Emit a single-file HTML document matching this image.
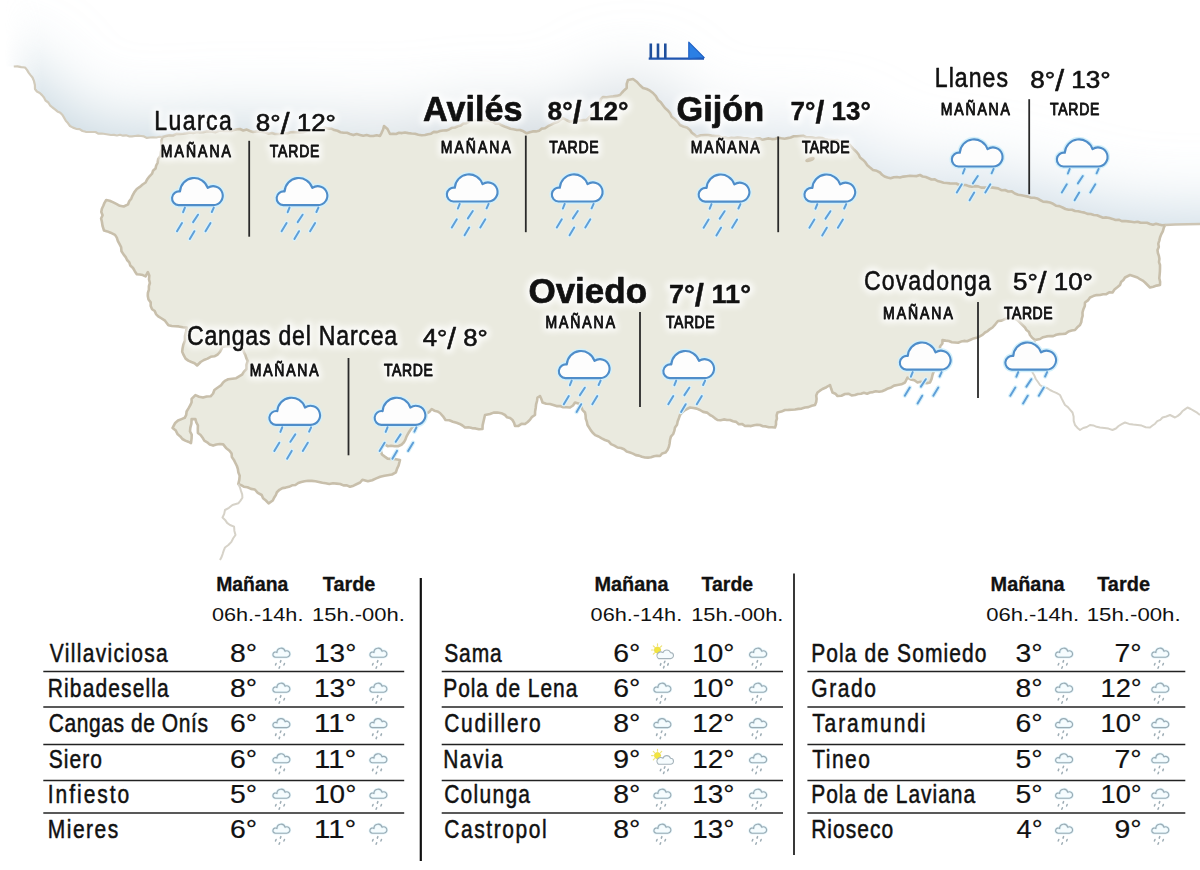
<!DOCTYPE html>
<html><head><meta charset="utf-8"><title>El tiempo en Asturias</title>
<style>
html,body{margin:0;padding:0;background:#fff;}
body{width:1200px;height:870px;overflow:hidden;}
svg{display:block;}
text{font-family:'Liberation Sans', Arial, sans-serif;}
.nm{}
.tp{transform-box:fill-box;}
.lbl text{paint-order:stroke;stroke:rgba(255,255,255,0.55);stroke-width:3px;stroke-linejoin:round;}
</style></head>
<body>
<svg width="1200" height="870" viewBox="0 0 1200 870">
<defs>
<clipPath id="seaclip"><polygon points="0.0,0.0 1200.0,0.0 1200.0,224.0 1175.0,224.5 1165.0,225.0 1150.0,224.0 1125.0,221.0 1100.0,216.5 1075.0,211.0 1062.5,207.5 1050.0,202.5 1040.0,200.0 1025.0,196.0 1005.0,190.0 987.5,187.5 962.5,185.0 937.5,181.0 920.0,175.0 900.0,177.5 887.5,177.5 880.0,172.5 870.0,167.5 860.0,157.5 850.0,145.0 837.5,140.0 812.5,137.5 800.0,136.0 775.0,139.0 750.0,139.0 725.0,137.5 705.0,135.0 696.7,136.7 690.0,130.0 680.0,125.0 671.7,116.7 665.0,108.0 658.0,100.0 653.0,93.0 643.0,88.0 636.7,81.7 633.0,79.0 628.0,80.0 626.7,88.0 620.0,95.0 603.0,97.0 595.0,110.0 586.7,120.0 570.0,121.7 563.0,118.0 558.0,121.7 545.0,128.3 526.7,133.3 520.0,130.0 507.5,127.5 490.0,121.0 475.0,120.0 455.0,127.5 440.0,131.0 425.0,135.0 405.0,132.5 390.0,134.0 387.5,129.0 384.0,126.0 380.0,136.0 370.0,136.0 350.0,134.0 325.0,127.5 300.0,132.5 275.0,134.0 250.0,131.0 240.0,129.0 225.0,131.0 200.0,132.5 180.0,134.0 162.5,137.0 150.0,137.5 135.0,136.0 105.0,134.0 82.5,131.0 70.0,126.0 62.5,115.0 52.5,107.5 44.0,97.5 35.0,89.0 32.5,77.5 25.0,67.5 13.8,66.5 0.0,66.5"/></clipPath>
<filter id="blur18" filterUnits="userSpaceOnUse" x="-100" y="-100" width="1400" height="900"><feGaussianBlur stdDeviation="36"/></filter>
<filter id="glow" x="-30%" y="-30%" width="160%" height="160%"><feGaussianBlur stdDeviation="1.2"/></filter>
<symbol id="cloud" viewBox="-3 -3 60 70" width="60" height="70" overflow="visible"><g fill="none" stroke-linecap="round" stroke-linejoin="round"><path d="M7.45,28.15 A6.9,6.9 0 1 1 8.82,14.44 A14.2,14.2 0 0 1 36.52,10.92 A9.5,9.5 0 1 1 42.05,28.15 Z" fill="#ffffff" stroke="#d2f0fb" stroke-width="5"/><path d="M13.7,30.6 L11.9,35.2 M42.6,30.6 L40.6,35.0 M26.8,37.7 L21.9,45.1 M10.8,46 L5.8,54.2 M39.3,46 L34.3,54.2 M23.2,54.2 L18.6,62" stroke="#daf2fb" stroke-width="4.4"/><path d="M7.45,28.15 A6.9,6.9 0 1 1 8.82,14.44 A14.2,14.2 0 0 1 36.52,10.92 A9.5,9.5 0 1 1 42.05,28.15 Z" fill="#fdfdfd" stroke="#4f8dc9" stroke-width="2.1"/><path d="M13.7,30.6 L11.9,35.2 M42.6,30.6 L40.6,35.0 M26.8,37.7 L21.9,45.1 M10.8,46 L5.8,54.2 M39.3,46 L34.3,54.2 M23.2,54.2 L18.6,62" stroke="#5f9fd8" stroke-width="2.0"/></g></symbol>
<symbol id="sicon" viewBox="0 0 18 20" width="18" height="20" overflow="visible"><g fill="none" stroke-linecap="round" stroke-linejoin="round"><path d="M3.00,9.20 A2.6,2.6 0 1 1 4.50,4.48 A4.1,4.1 0 0 1 12.56,3.25 A3.2,3.2 0 1 1 14.20,9.20 Z" fill="#f6fcfe" stroke="#e2f4fa" stroke-width="2.6"/><path d="M3.00,9.20 A2.6,2.6 0 1 1 4.50,4.48 A4.1,4.1 0 0 1 12.56,3.25 A3.2,3.2 0 1 1 14.20,9.20 Z" fill="none" stroke="#9aabb4" stroke-width="1.15"/><path d="M8.4,12.6 l-0.6,1.5 M3.6,15.5 l-0.6,1.5 M12,15.5 l-0.6,1.5 M7.2,18.7 l-0.6,1.5" stroke="#9eadb5" stroke-width="1.5"/></g></symbol>
<symbol id="ssun" viewBox="0 0 20 20" width="20" height="20" overflow="visible"><g fill="none" stroke-linecap="round" stroke-linejoin="round"><g stroke="#efe37a" stroke-width="1.2"><path d="M5,-1.2 v1.8 M5,9.2 v1.6 M-1,5 h1.8 M0.8,0.8 l1.2,1.2 M0.8,9.2 l1.2,-1.2 M9.2,0.8 l-1.2,1.2"/></g><circle cx="5" cy="5" r="3.1" fill="#f3e53c" stroke="#e9d94a" stroke-width="0.8"/><path d="M6,13.6 h12 a3,3 0 0 0 0,-6 a4,4 0 0 0 -7.5,0 a3,3 0 0 0 -4.5,6 z" fill="#f6fcfe" stroke="#a5b3ba" stroke-width="1.1"/><path d="M12.4,16.2 l-0.6,1.5 M8.4,18.6 l-0.6,1.5 M15.8,18.6 l-0.6,1.5 M11.6,21.4 l-0.6,1.5" stroke="#9eadb5" stroke-width="1.5"/></g></symbol>
<linearGradient id="shgrad" gradientUnits="userSpaceOnUse" x1="0" y1="0" x2="1200" y2="0"><stop offset="0.004" stop-color="#fff" stop-opacity="0"/><stop offset="0.035" stop-color="#fff" stop-opacity="1"/><stop offset="1" stop-color="#fff" stop-opacity="1"/></linearGradient>
<linearGradient id="shfill" gradientUnits="userSpaceOnUse" x1="0" y1="0" x2="1200" y2="0"><stop offset="0" stop-color="#bfd1dc"/><stop offset="0.2" stop-color="#c3d3dc"/><stop offset="0.3" stop-color="#d3dde2"/><stop offset="0.4" stop-color="#c6d0d7"/><stop offset="0.5" stop-color="#c8d2d9"/><stop offset="0.6" stop-color="#d4dee5"/><stop offset="0.73" stop-color="#d8e2ea"/><stop offset="0.85" stop-color="#c6d6e1"/><stop offset="1" stop-color="#c2d4e0"/></linearGradient>
<filter id="halo" x="-10%" y="-30%" width="120%" height="160%"><feGaussianBlur stdDeviation="3"/></filter>
</defs>
<rect width="1200" height="870" fill="#ffffff"/>
<mask id="seamask" maskUnits="userSpaceOnUse" x="0" y="0" width="1200" height="300"><rect x="0" y="0" width="1200" height="300" fill="url(#shgrad)"/></mask>
<g clip-path="url(#seaclip)"><g mask="url(#seamask)">
<polygon points="-80.0,62.5 13.8,62.5 25.0,63.5 32.5,73.5 35.0,85.0 44.0,93.5 52.5,103.5 62.5,111.0 70.0,122.0 82.5,127.0 105.0,130.0 135.0,132.0 150.0,133.5 162.5,133.0 180.0,130.0 200.0,128.5 225.0,127.0 240.0,125.0 250.0,127.0 275.0,130.0 300.0,128.5 325.0,123.5 350.0,130.0 370.0,132.0 380.0,132.0 384.0,122.0 387.5,125.0 390.0,130.0 405.0,128.5 425.0,131.0 440.0,127.0 455.0,123.5 475.0,116.0 490.0,117.0 507.5,123.5 520.0,126.0 526.7,129.3 545.0,124.3 558.0,117.7 563.0,114.0 570.0,117.7 586.7,116.0 595.0,106.0 603.0,93.0 620.0,91.0 626.7,84.0 628.0,76.0 633.0,75.0 636.7,77.7 643.0,84.0 653.0,89.0 658.0,96.0 665.0,104.0 671.7,112.7 680.0,121.0 690.0,126.0 696.7,132.7 705.0,131.0 725.0,133.5 750.0,135.0 775.0,135.0 800.0,132.0 812.5,133.5 837.5,136.0 850.0,141.0 860.0,153.5 870.0,163.5 880.0,168.5 887.5,173.5 900.0,173.5 920.0,171.0 937.5,177.0 962.5,181.0 987.5,183.5 1005.0,186.0 1025.0,192.0 1040.0,196.0 1050.0,198.5 1062.5,203.5 1075.0,207.0 1100.0,212.5 1125.0,217.0 1150.0,220.0 1165.0,221.0 1175.0,220.5 1200.0,220.0 1300.0,220.0 1300.0,696.0 -80.0,696.0" fill="url(#shfill)" filter="url(#blur18)"/>
</g></g>
<polygon points="162.5,137.0 165.9,136.1 169.4,135.2 173.0,135.5 176.4,133.9 180.0,134.0 183.3,133.8 186.6,133.3 189.9,132.5 193.3,133.0 196.6,132.0 200.0,132.5 203.1,132.2 206.2,131.4 209.3,131.2 212.5,131.6 215.7,132.1 218.7,130.7 221.8,130.7 225.0,131.0 228.0,130.8 231.1,131.0 234.0,129.9 237.0,129.2 240.0,129.0 243.2,130.5 246.8,129.6 250.0,131.0 253.1,132.0 256.3,131.4 259.4,131.5 262.6,131.9 265.7,132.6 268.7,133.8 271.9,133.1 275.0,134.0 278.1,134.0 281.3,133.9 284.4,133.2 287.5,133.3 290.6,132.3 293.7,132.1 296.8,132.2 300.0,132.5 303.2,132.2 306.2,131.1 309.3,130.3 312.5,130.1 315.6,129.3 318.7,128.4 322.0,128.6 325.0,127.5 328.0,128.6 331.4,128.7 334.3,130.1 337.5,130.8 340.5,132.2 343.7,132.8 347.0,132.8 350.0,134.0 353.3,135.1 356.7,134.0 360.0,134.9 363.3,135.8 366.7,135.1 370.0,136.0 373.3,136.0 376.7,135.2 380.0,136.0 381.6,132.8 383.1,129.5 384.0,126.0 387.5,129.0 390.0,134.0 393.0,133.8 396.1,134.0 399.0,132.8 402.0,133.1 405.0,132.5 408.3,133.1 411.6,133.5 415.0,133.7 418.3,134.7 421.6,135.3 425.0,135.0 428.0,134.2 431.1,133.7 433.8,131.9 437.1,132.1 440.0,131.0 443.1,130.5 446.2,130.4 449.1,129.4 451.9,127.8 455.0,127.5 457.8,126.2 460.8,125.6 463.3,123.5 466.4,123.2 469.1,121.6 471.9,120.5 475.0,120.0 478.0,119.5 481.0,120.9 484.0,120.0 487.0,120.4 490.0,121.0 493.0,121.9 495.6,123.8 499.0,123.6 501.7,125.3 504.6,126.5 507.5,127.5 510.5,128.8 513.6,129.3 516.8,130.0 520.0,130.0 523.5,131.3 526.7,133.3 529.7,132.3 532.7,131.4 536.0,131.4 539.1,130.7 541.8,128.6 545.0,128.3 548.0,126.2 551.3,124.6 554.5,122.9 558.0,121.7 560.5,119.8 563.0,118.0 566.4,120.0 570.0,121.7 573.3,121.0 576.6,120.2 580.0,120.5 583.3,120.1 586.7,120.0 588.9,117.6 591.4,115.5 593.2,112.7 595.0,110.0 596.6,107.4 598.4,104.9 600.1,102.4 600.8,99.2 603.0,97.0 606.5,97.3 609.9,96.7 613.3,96.4 616.7,95.9 620.0,95.0 622.1,92.5 624.3,90.2 626.7,88.0 626.7,83.9 628.0,80.0 633.0,79.0 636.7,81.7 639.7,85.0 643.0,88.0 646.7,89.0 650.0,90.7 653.0,93.0 655.9,96.2 658.0,100.0 660.8,102.3 662.9,105.2 665.0,108.0 667.8,110.4 670.1,113.3 671.7,116.7 674.9,119.0 677.7,121.8 680.0,125.0 683.4,126.5 687.0,127.6 690.0,130.0 691.8,132.7 694.3,134.6 696.7,136.7 700.7,135.3 705.0,135.0 708.4,135.0 711.7,135.6 715.0,136.0 718.4,136.0 721.6,137.7 725.0,137.5 728.1,138.5 731.3,137.8 734.4,138.0 737.5,137.5 740.7,137.8 743.8,138.4 746.9,138.4 750.0,139.0 753.1,139.6 756.2,138.4 759.4,138.2 762.5,139.8 765.6,139.0 768.8,138.4 771.9,139.1 775.0,139.0 778.0,137.8 781.3,138.3 784.5,138.7 787.6,138.1 790.7,137.5 793.7,136.3 796.8,136.2 800.0,136.0 803.2,135.8 806.2,137.2 809.4,137.2 812.5,137.5 815.6,138.3 818.8,137.8 821.9,138.0 824.9,139.3 828.0,139.9 831.2,140.0 834.3,140.2 837.5,140.0 840.4,141.8 843.6,142.9 847.0,143.3 850.0,145.0 852.0,147.5 854.2,149.8 856.6,152.0 858.6,154.5 860.0,157.5 862.8,159.7 865.3,162.2 867.3,165.2 870.0,167.5 873.0,169.9 876.7,170.8 880.0,172.5 882.1,174.8 884.5,176.5 887.5,177.5 890.6,178.3 893.8,177.3 896.9,177.0 900.0,177.5 903.3,176.6 906.6,176.2 909.9,175.8 913.4,176.0 916.8,176.1 920.0,175.0 922.7,176.5 925.8,177.0 928.7,178.2 931.5,179.5 934.8,179.3 937.5,181.0 940.6,181.8 943.6,182.7 946.8,183.0 949.9,183.4 953.1,183.5 956.3,183.5 959.3,185.0 962.5,185.0 965.7,185.0 968.7,186.1 971.8,186.7 975.0,186.1 978.1,186.4 981.2,187.6 984.3,187.6 987.5,187.5 991.1,187.4 994.6,187.9 998.1,188.4 1001.4,190.2 1005.0,190.0 1008.2,191.5 1011.8,191.4 1014.8,193.5 1018.1,194.8 1021.6,195.3 1025.0,196.0 1028.1,196.6 1031.0,197.7 1034.2,197.8 1037.2,198.4 1040.0,200.0 1043.1,201.6 1046.6,201.9 1050.0,202.5 1053.1,203.8 1056.0,205.7 1059.4,206.1 1062.5,207.5 1065.5,209.0 1068.6,209.8 1072.0,209.7 1075.0,211.0 1078.2,211.3 1081.3,212.0 1084.5,212.6 1087.5,213.9 1090.7,214.0 1093.8,215.0 1097.0,215.2 1100.0,216.5 1103.0,217.7 1106.3,217.4 1109.4,218.1 1112.5,218.9 1115.5,220.0 1118.8,219.7 1121.7,221.1 1125.0,221.0 1128.1,221.4 1131.2,221.8 1134.4,222.2 1137.6,221.7 1140.6,222.8 1143.8,222.7 1147.0,222.8 1150.0,224.0 1153.0,224.7 1156.0,223.8 1159.0,224.6 1162.0,225.2 1165.0,225.0 1163.7,228.1 1162.8,231.4 1161.2,234.4 1160.0,237.5 1159.3,240.6 1158.3,243.7 1158.8,247.0 1157.5,250.0 1157.9,253.0 1158.9,255.9 1159.4,258.9 1159.0,262.1 1160.0,265.0 1160.0,268.3 1159.9,271.7 1159.6,275.0 1159.3,278.3 1160.1,281.7 1160.0,285.0 1156.6,285.6 1153.3,286.7 1150.0,287.5 1147.5,285.0 1145.0,282.5 1142.7,280.6 1140.0,279.2 1137.5,277.5 1133.8,276.2 1130.0,275.0 1125.0,277.5 1123.4,280.0 1121.0,282.1 1120.0,285.0 1117.3,287.3 1114.5,289.5 1112.5,292.5 1109.2,292.4 1106.3,294.2 1103.1,294.3 1100.0,295.0 1096.5,295.1 1093.2,296.1 1090.0,297.5 1087.9,300.4 1085.0,302.5 1084.8,306.0 1083.4,309.2 1082.5,312.5 1082.6,315.8 1081.7,318.8 1081.3,322.0 1080.0,325.0 1077.3,327.3 1075.0,330.0 1071.7,330.5 1068.5,331.4 1065.8,333.6 1062.5,334.0 1059.3,334.1 1056.2,334.7 1053.2,336.1 1050.0,336.0 1046.5,336.4 1043.1,337.2 1040.0,339.0 1035.0,340.0 1032.2,337.8 1030.0,335.0 1029.0,332.1 1026.5,330.1 1025.0,327.5 1022.5,325.0 1020.0,322.5 1016.7,319.5 1012.5,318.0 1008.7,317.9 1005.0,319.0 1001.7,320.6 998.0,321.0 995.3,324.3 992.5,327.5 990.0,329.1 987.7,331.1 985.0,332.5 982.8,334.6 980.2,336.1 977.5,337.5 973.6,338.4 970.0,340.0 967.1,341.3 964.0,340.9 961.0,341.6 958.1,342.8 955.0,342.5 951.8,342.2 948.8,341.0 945.6,340.6 942.5,340.0 942.4,343.5 940.0,346.5 940.0,350.0 939.0,352.9 938.2,355.9 939.2,359.1 938.4,362.1 937.5,365.0 936.5,368.7 933.7,371.5 932.5,375.0 931.6,378.9 930.0,382.5 926.9,383.1 923.8,382.6 920.6,381.8 917.5,382.5 914.4,380.3 910.6,379.5 907.5,377.5 905.0,382.5 901.4,384.3 897.5,385.0 894.1,385.6 891.2,387.4 888.0,388.4 885.0,390.0 882.1,391.2 879.1,391.7 875.9,391.2 873.0,392.1 870.0,392.5 867.1,393.7 863.9,392.8 861.0,393.8 857.9,394.0 855.0,395.0 851.6,395.4 848.4,393.7 845.0,394.0 841.4,395.7 837.5,396.0 835.4,393.7 832.5,392.5 831.2,388.8 830.0,385.0 826.4,387.2 822.5,389.0 819.9,390.7 817.5,392.5 816.2,395.5 816.6,398.8 816.2,402.0 815.0,405.0 811.7,405.8 808.4,407.1 805.0,407.5 801.7,408.6 798.4,408.9 795.1,409.5 791.7,409.7 788.4,409.9 785.0,410.0 781.4,411.6 777.5,412.5 776.6,415.4 776.9,418.6 776.0,421.5 776.0,424.6 775.0,427.5 772.0,427.3 768.9,427.3 765.9,426.4 762.9,426.3 760.0,425.0 757.0,424.8 754.0,425.3 751.0,426.1 748.0,425.8 745.0,426.0 742.3,424.1 738.8,424.2 736.2,421.9 733.0,421.3 730.0,420.0 726.9,420.0 723.8,419.4 720.6,420.2 717.5,420.0 715.0,418.3 712.7,416.4 710.0,415.0 707.0,412.6 703.2,411.9 700.0,410.0 696.8,408.6 693.4,408.0 690.0,407.5 685.0,410.0 682.3,412.3 680.0,415.0 678.9,418.2 677.7,421.3 677.0,424.7 675.0,427.5 674.3,430.9 673.2,434.0 670.9,436.7 670.0,440.0 669.6,443.4 668.9,446.8 667.5,450.0 665.4,452.6 662.1,453.5 660.0,456.0 656.9,455.7 654.0,456.3 651.0,457.3 648.0,457.6 645.0,457.5 641.9,456.8 639.0,455.6 635.8,455.1 633.0,453.6 630.0,452.5 626.7,451.6 624.0,449.3 620.9,448.0 617.5,447.5 614.4,445.6 611.0,444.1 608.5,441.2 605.0,440.0 601.7,438.4 598.6,436.5 595.2,435.1 592.5,432.5 590.7,430.1 589.1,427.5 587.5,425.0 586.9,421.9 585.8,418.8 585.6,415.6 585.0,412.5 582.6,410.1 581.3,407.0 580.0,404.0 575.0,402.5 573.0,405.5 570.0,407.5 566.6,407.2 563.2,407.3 560.0,406.0 556.5,406.1 553.3,405.0 550.0,404.0 546.2,403.7 542.5,402.5 541.4,399.2 540.0,396.0 537.5,397.5 537.0,401.0 536.1,404.4 535.7,408.0 535.1,411.4 535.0,415.0 532.1,416.8 530.1,419.6 527.7,422.0 525.0,424.0 521.5,423.9 518.5,425.9 515.0,426.0 514.1,422.9 512.5,420.0 510.1,418.1 507.1,417.3 505.0,415.0 501.4,413.2 497.5,412.5 493.6,412.6 490.0,414.0 485.0,415.0 484.2,418.5 483.4,421.9 482.6,425.4 482.5,429.0 478.9,429.3 475.5,428.4 472.0,428.1 468.5,427.2 465.0,427.5 462.5,425.5 459.7,423.9 456.6,422.8 452.9,421.7 449.4,420.3 445.5,420.0 443.0,416.3 440.0,413.0 437.4,411.4 434.3,410.7 431.7,409.0 429.3,411.9 426.2,414.0 423.1,415.9 420.0,418.0 418.5,421.0 415.4,422.8 413.7,425.7 411.6,428.3 409.7,431.0 408.1,433.7 406.6,436.4 405.5,439.3 404.1,442.0 401.4,444.8 398.1,446.3 394.5,446.2 391.1,445.7 387.6,446.2 383.4,443.4 380.7,447.6 380.9,451.1 382.0,454.5 384.8,456.6 387.6,458.6 391.7,459.0 395.9,459.3 400.0,460.0 398.6,465.5 397.0,468.9 395.9,472.4 392.0,474.5 387.6,475.2 384.5,475.7 380.2,476.7 376.2,478.4 372.2,480.2 367.9,481.2 362.4,479.8 360.1,482.5 356.9,484.0 353.6,485.7 350.0,486.7 346.9,485.4 343.4,485.4 340.3,484.0 336.6,483.6 333.0,483.2 329.3,484.0 325.8,483.3 322.4,482.8 318.9,481.9 315.5,481.2 311.8,480.9 308.2,480.7 304.5,481.2 301.3,482.0 298.2,483.0 295.4,485.0 292.1,485.3 289.0,486.8 285.7,487.6 282.4,488.1 279.4,489.8 276.9,492.2 275.8,495.1 274.1,497.7 272.8,500.5 268.6,503.3 265.9,500.5 263.1,498.3 261.7,495.0 257.8,492.8 254.8,489.5 251.0,488.9 247.5,487.3 243.8,486.7 241.2,485.1 238.3,484.0 239.3,479.9 239.7,475.7 238.4,472.6 237.9,469.2 236.9,466.0 235.4,463.0 233.9,459.9 231.9,457.1 231.6,453.5 229.5,450.7 226.0,447.9 223.2,444.4 219.7,444.0 216.4,444.5 213.1,445.6 209.8,444.6 207.2,442.3 204.3,440.6 202.6,437.7 200.6,435.0 197.9,433.0 197.8,429.2 197.9,425.4 196.3,422.4 195.4,419.1 191.6,419.1 191.4,423.6 190.3,427.9 190.0,431.4 191.7,434.6 191.6,438.1 191.0,443.1 188.2,441.7 185.3,440.6 182.4,439.0 180.3,436.4 177.7,434.3 175.8,430.6 172.6,427.9 175.2,422.9 178.0,420.5 181.5,419.1 184.7,417.8 186.2,414.8 186.6,411.5 188.5,408.4 190.3,405.2 191.6,402.2 191.6,398.9 195.4,395.1 199.1,396.7 203.0,397.6 206.7,396.5 210.6,396.3 213.1,393.5 214.4,390.0 217.8,387.5 221.3,385.1 223.1,382.5 225.4,380.6 228.2,379.3 232.2,378.7 236.2,378.2 239.1,376.4 242.0,374.7 244.0,371.6 246.6,369.0 246.5,364.9 247.7,360.9 246.3,358.1 245.4,355.2 244.0,352.4 243.1,349.4 239.5,347.9 235.5,348.3 232.0,346.5 228.8,346.3 225.6,346.3 222.4,347.1 220.1,351.7 217.7,354.5 214.4,356.3 210.7,356.8 207.5,358.6 203.9,360.0 200.6,362.0 197.1,365.5 194.6,363.2 191.4,362.0 188.3,360.6 185.6,358.6 183.7,355.2 182.2,351.7 182.6,348.2 183.3,344.8 185.0,340.6 185.0,336.0 186.0,331.8 186.8,327.6 182.7,327.2 178.7,326.4 175.3,326.2 171.8,326.0 168.4,325.3 165.0,320.7 160.9,318.0 158.2,316.3 156.0,314.1 154.7,311.0 152.1,309.2 150.7,306.0 150.7,302.4 148.5,299.5 147.8,296.1 147.9,292.8 148.9,289.6 148.9,286.2 149.9,283.0 149.0,279.4 149.3,275.6 147.8,272.1 145.6,276.4 142.8,275.1 139.9,274.5 136.8,274.3 134.8,271.2 133.0,268.0 130.3,265.5 129.3,262.4 127.1,260.0 125.7,257.1 123.7,254.6 121.5,251.3 121.1,247.2 119.3,243.7 117.8,240.8 116.8,237.6 115.0,234.9 110.6,232.7 107.4,231.4 104.0,230.5 102.6,226.2 101.9,221.8 101.1,218.5 102.6,215.2 101.3,212.0 101.9,208.7 103.3,205.8 104.5,202.8 106.2,200.0 109.6,200.7 112.8,202.1 116.3,203.9 119.8,205.8 123.7,206.5 128.1,204.3 129.2,201.2 131.3,198.6 132.5,195.6 134.4,192.1 136.8,189.0 139.8,186.9 142.6,184.5 145.6,182.5 147.3,179.2 149.5,176.3 152.1,173.7 153.0,170.8 155.5,168.6 156.2,165.5 157.6,162.8 158.2,159.0 160.5,155.7 160.9,151.9 162.1,148.3 161.6,144.4 161.5,140.7" fill="#eaeadf" stroke="#c8bfab" stroke-width="2.6" stroke-linejoin="round"/>
<polyline points="13.8,66.5 17.5,66.4 21.2,67.2 25.0,67.5 27.0,69.9 28.6,72.6 30.5,75.1 32.5,77.5 34.0,81.2 34.9,85.0 35.0,89.0 36.9,91.5 39.8,93.0 42.0,95.1 44.0,97.5 45.5,100.5 48.3,102.5 50.0,105.3 52.5,107.5 55.0,109.3 57.4,111.4 60.3,112.7 62.5,115.0 64.2,117.9 65.8,120.8 68.1,123.3 70.0,126.0 73.0,127.6 76.1,128.8 79.6,129.1 82.5,131.0 85.7,131.8 88.9,132.0 92.2,132.0 95.5,132.0 98.5,133.7 101.8,133.5 105.0,134.0 108.0,134.5 111.0,135.0 114.0,134.9 117.0,135.5 120.0,134.8 123.0,135.7 126.0,135.3 129.0,136.3 132.0,136.4 135.0,136.0 138.1,135.7 141.1,136.0 144.0,136.4 146.9,137.9 150.0,137.5 153.1,137.3 156.3,137.5 159.4,136.8 162.5,137.0" fill="none" stroke="#d2cbbb" stroke-width="2.2" stroke-linejoin="round"/>
<polyline points="1165.0,225.0 1175.0,224.5 1200.0,224.0" fill="none" stroke="#cdc5b4" stroke-width="2.4"/>
<polyline points="238.3,484.0 239.9,487.3 241.0,490.9 242.2,494.3 242.4,497.8 240.5,500.6 238.3,503.3 232.5,505.0 229.0,507.8 225.0,510.0 224.2,513.9 222.5,517.5 225.1,519.9 227.1,522.9 230.0,525.0 234.1,526.7 234.4,530.9 235.5,535.0 233.2,538.3 231.4,541.9 228.4,545.0 225.0,547.5 223.7,550.6 222.7,553.8 221.6,557.0 220.0,560.0" fill="none" stroke="#d6d2c8" stroke-width="2" stroke-linejoin="round"/>
<polyline points="1035.0,340.0 1034.4,343.7 1033.7,347.5 1033.1,351.2 1033.0,355.0 1032.4,358.5 1032.5,362.0 1032.2,365.5 1033.2,369.0 1032.5,372.5 1034.4,375.6 1035.8,379.0 1038.0,382.0 1040.0,385.0 1043.1,387.1 1046.9,387.9 1050.0,390.0 1053.3,391.6 1056.8,393.1 1060.0,395.0 1061.6,398.4 1063.3,401.7 1065.0,405.0 1067.9,407.1 1070.2,409.8 1072.5,412.5 1073.6,416.6 1073.7,420.9 1075.0,425.0 1077.3,427.7 1080.0,430.0 1083.2,428.0 1086.8,427.0 1090.0,425.0 1093.4,425.4 1096.6,426.8 1100.0,427.5 1104.3,427.9 1108.5,428.6 1112.5,430.0 1115.9,428.5 1118.6,426.0 1121.7,424.1 1125.0,422.5 1129.1,423.9 1133.2,424.6 1137.5,425.0 1141.7,425.6 1145.7,427.2 1150.0,427.5 1152.5,425.5 1155.1,423.7 1157.3,421.2 1160.3,419.9 1162.5,417.5 1166.3,416.5 1170.0,415.0 1175.0,417.5 1177.8,415.9 1180.3,413.9 1182.3,411.3 1184.9,409.4 1187.5,407.5 1190.8,409.0 1194.0,410.9 1197.1,412.7 1200.0,415.0" fill="none" stroke="#d6d2c8" stroke-width="2" stroke-linejoin="round"/>
<ellipse cx="810" cy="159.5" rx="5" ry="2.2" fill="#c9bfa9" transform="rotate(-20 810 159.5)"/>
<g><path d="M648.7,58.7 H704" stroke="#1f55b0" stroke-width="2.2"/><path d="M650.8,43.5 V58.7 M658,43.5 V58.7 M665.3,43.5 V58.7" stroke="#1f4f9c" stroke-width="2.6"/><path d="M688.8,42.2 L688.8,58.7 L704.2,57.6 Z" fill="#2b7fe4" stroke="#1f60c4" stroke-width="1.2" stroke-linejoin="round"/></g>
<path d="M249.2,140.8 V236.7" stroke="#2a2a2a" stroke-width="1.8"/>
<path d="M525.8,135.6 V232.2" stroke="#2a2a2a" stroke-width="1.8"/>
<path d="M778.2,136.5 V232.2" stroke="#2a2a2a" stroke-width="1.8"/>
<path d="M1029.2,99.2 V194.2" stroke="#2a2a2a" stroke-width="1.8"/>
<path d="M640,312 V407" stroke="#2a2a2a" stroke-width="1.8"/>
<path d="M348.5,358 V455.3" stroke="#2a2a2a" stroke-width="1.8"/>
<path d="M978,302 V398" stroke="#2a2a2a" stroke-width="1.8"/>
<use href="#cloud" x="168.2" y="174.0"/>
<use href="#cloud" x="272.8" y="174.0"/>
<use href="#cloud" x="443.0" y="170.3"/>
<use href="#cloud" x="548.0" y="170.3"/>
<use href="#cloud" x="694.8" y="170.5"/>
<use href="#cloud" x="800.6" y="170.5"/>
<use href="#cloud" x="948.0" y="135.3"/>
<use href="#cloud" x="1053.0" y="135.3"/>
<use href="#cloud" x="555.0" y="347.0"/>
<use href="#cloud" x="659.5" y="347.0"/>
<use href="#cloud" x="265.5" y="393.7"/>
<use href="#cloud" x="370.8" y="393.7"/>
<use href="#cloud" x="896.0" y="338.5"/>
<use href="#cloud" x="1001.5" y="338.5"/>
<g font-family="'Liberation Sans', Arial, sans-serif" filter="url(#halo)" opacity="0.9"><text transform="translate(154.20 0) scale(0.84 1)" x="0" y="129.7" font-size="27.5" font-weight="normal" textLength="92.43" lengthAdjust="spacing" fill="#fff" stroke="#fff" stroke-width="7" stroke-linejoin="round">Luarca</text><text x="255.78" y="130.8" font-size="24" font-weight="normal" textLength="80.22" lengthAdjust="spacingAndGlyphs" fill="#fff" stroke="#fff" stroke-width="7" stroke-linejoin="round">8°<tspan font-size="29.3" dy="3.2">/</tspan><tspan dy="-3.2"> 12°</tspan></text><text transform="translate(160.80 0) scale(0.86 1)" x="0" y="157.5" font-size="16.3" font-weight="normal" textLength="81.58" lengthAdjust="spacing" fill="#fff" stroke="#fff" stroke-width="7" stroke-linejoin="round">MAÑANA</text><text transform="translate(269.80 0) scale(0.86 1)" x="0" y="157.5" font-size="16.3" font-weight="normal" textLength="57.70" lengthAdjust="spacing" fill="#fff" stroke="#fff" stroke-width="7" stroke-linejoin="round">TARDE</text><text x="423.01" y="120.9" font-size="35.6" font-weight="bold" textLength="99.47" lengthAdjust="spacingAndGlyphs" fill="#fff" stroke="#fff" stroke-width="7" stroke-linejoin="round">Avilés</text><text x="547.60" y="120.0" font-size="25" font-weight="bold" textLength="81.00" lengthAdjust="spacingAndGlyphs" fill="#fff" stroke="#fff" stroke-width="7" stroke-linejoin="round">8°<tspan font-size="30.5" dy="3.2">/</tspan><tspan dy="-3.2"> 12°</tspan></text><text transform="translate(440.80 0) scale(0.86 1)" x="0" y="152.7" font-size="16.3" font-weight="normal" textLength="81.37" lengthAdjust="spacing" fill="#fff" stroke="#fff" stroke-width="7" stroke-linejoin="round">MAÑANA</text><text transform="translate(549.20 0) scale(0.86 1)" x="0" y="152.7" font-size="16.3" font-weight="normal" textLength="57.56" lengthAdjust="spacing" fill="#fff" stroke="#fff" stroke-width="7" stroke-linejoin="round">TARDE</text><text x="676.60" y="120.9" font-size="35.6" font-weight="bold" textLength="87.54" lengthAdjust="spacingAndGlyphs" fill="#fff" stroke="#fff" stroke-width="7" stroke-linejoin="round">Gijón</text><text x="790.60" y="120.0" font-size="25" font-weight="bold" textLength="80.20" lengthAdjust="spacingAndGlyphs" fill="#fff" stroke="#fff" stroke-width="7" stroke-linejoin="round">7°<tspan font-size="30.5" dy="3.2">/</tspan><tspan dy="-3.2"> 13°</tspan></text><text transform="translate(690.80 0) scale(0.86 1)" x="0" y="153.4" font-size="16.3" font-weight="normal" textLength="80.09" lengthAdjust="spacing" fill="#fff" stroke="#fff" stroke-width="7" stroke-linejoin="round">MAÑANA</text><text transform="translate(802.00 0) scale(0.86 1)" x="0" y="153.4" font-size="16.3" font-weight="normal" textLength="55.29" lengthAdjust="spacing" fill="#fff" stroke="#fff" stroke-width="7" stroke-linejoin="round">TARDE</text><text transform="translate(934.80 0) scale(0.84 1)" x="0" y="87.5" font-size="27.5" font-weight="normal" textLength="87.12" lengthAdjust="spacing" fill="#fff" stroke="#fff" stroke-width="7" stroke-linejoin="round">Llanes</text><text x="1030.20" y="87.5" font-size="24" font-weight="normal" textLength="80.61" lengthAdjust="spacingAndGlyphs" fill="#fff" stroke="#fff" stroke-width="7" stroke-linejoin="round">8°<tspan font-size="29.3" dy="3.2">/</tspan><tspan dy="-3.2"> 13°</tspan></text><text transform="translate(940.80 0) scale(0.86 1)" x="0" y="115.0" font-size="16.3" font-weight="normal" textLength="80.30" lengthAdjust="spacing" fill="#fff" stroke="#fff" stroke-width="7" stroke-linejoin="round">MAÑANA</text><text transform="translate(1050.00 0) scale(0.86 1)" x="0" y="115.0" font-size="16.3" font-weight="normal" textLength="57.50" lengthAdjust="spacing" fill="#fff" stroke="#fff" stroke-width="7" stroke-linejoin="round">TARDE</text><text x="528.40" y="303.0" font-size="35.6" font-weight="bold" textLength="118.72" lengthAdjust="spacingAndGlyphs" fill="#fff" stroke="#fff" stroke-width="7" stroke-linejoin="round">Oviedo</text><text x="669.00" y="303.0" font-size="25" font-weight="bold" textLength="82.00" lengthAdjust="spacingAndGlyphs" fill="#fff" stroke="#fff" stroke-width="7" stroke-linejoin="round">7°<tspan font-size="30.5" dy="3.2">/</tspan><tspan dy="-3.2"> 11°</tspan></text><text transform="translate(545.40 0) scale(0.86 1)" x="0" y="328.4" font-size="16.3" font-weight="normal" textLength="80.93" lengthAdjust="spacing" fill="#fff" stroke="#fff" stroke-width="7" stroke-linejoin="round">MAÑANA</text><text transform="translate(666.00 0) scale(0.86 1)" x="0" y="328.4" font-size="16.3" font-weight="normal" textLength="56.40" lengthAdjust="spacing" fill="#fff" stroke="#fff" stroke-width="7" stroke-linejoin="round">TARDE</text><text transform="translate(187.00 0) scale(0.84 1)" x="0" y="345.5" font-size="27.5" font-weight="normal" textLength="250.16" lengthAdjust="spacing" fill="#fff" stroke="#fff" stroke-width="7" stroke-linejoin="round">Cangas del Narcea</text><text x="422.77" y="345.5" font-size="24" font-weight="normal" textLength="65.03" lengthAdjust="spacingAndGlyphs" fill="#fff" stroke="#fff" stroke-width="7" stroke-linejoin="round">4°<tspan font-size="29.3" dy="3.2">/</tspan><tspan dy="-3.2"> 8°</tspan></text><text transform="translate(249.80 0) scale(0.86 1)" x="0" y="376.1" font-size="16.3" font-weight="normal" textLength="79.88" lengthAdjust="spacing" fill="#fff" stroke="#fff" stroke-width="7" stroke-linejoin="round">MAÑANA</text><text transform="translate(384.00 0) scale(0.86 1)" x="0" y="376.1" font-size="16.3" font-weight="normal" textLength="56.74" lengthAdjust="spacing" fill="#fff" stroke="#fff" stroke-width="7" stroke-linejoin="round">TARDE</text><text transform="translate(864.00 0) scale(0.84 1)" x="0" y="290.0" font-size="27.5" font-weight="normal" textLength="151.04" lengthAdjust="spacing" fill="#fff" stroke="#fff" stroke-width="7" stroke-linejoin="round">Covadonga</text><text x="1013.00" y="290.0" font-size="24" font-weight="normal" textLength="80.00" lengthAdjust="spacingAndGlyphs" fill="#fff" stroke="#fff" stroke-width="7" stroke-linejoin="round">5°<tspan font-size="29.3" dy="3.2">/</tspan><tspan dy="-3.2"> 10°</tspan></text><text transform="translate(883.00 0) scale(0.86 1)" x="0" y="318.6" font-size="16.3" font-weight="normal" textLength="81.16" lengthAdjust="spacing" fill="#fff" stroke="#fff" stroke-width="7" stroke-linejoin="round">MAÑANA</text><text transform="translate(1004.00 0) scale(0.86 1)" x="0" y="318.6" font-size="16.3" font-weight="normal" textLength="56.40" lengthAdjust="spacing" fill="#fff" stroke="#fff" stroke-width="7" stroke-linejoin="round">TARDE</text></g>
<g font-family="'Liberation Sans', Arial, sans-serif">
<text id="t0" transform="translate(154.20 0) scale(0.84 1)" x="0" y="129.7" font-size="27.5" font-weight="normal" textLength="92.43" lengthAdjust="spacing" fill="#111" stroke="#111" stroke-width="0.6" stroke-linejoin="round">Luarca</text>
<text id="t1" x="255.78" y="130.8" font-size="24" font-weight="normal" textLength="80.22" lengthAdjust="spacingAndGlyphs" fill="#111" stroke="#111" stroke-width="0.6" stroke-linejoin="round">8°<tspan font-size="29.3" dy="3.2">/</tspan><tspan dy="-3.2"> 12°</tspan></text>
<text id="t2" transform="translate(160.80 0) scale(0.86 1)" x="0" y="157.5" font-size="16.3" font-weight="normal" textLength="81.58" lengthAdjust="spacing" fill="#111" stroke="#111" stroke-width="0.95" stroke-linejoin="round">MAÑANA</text>
<text id="t3" transform="translate(269.80 0) scale(0.86 1)" x="0" y="157.5" font-size="16.3" font-weight="normal" textLength="57.70" lengthAdjust="spacing" fill="#111" stroke="#111" stroke-width="0.95" stroke-linejoin="round">TARDE</text>
<text id="t4" x="423.01" y="120.9" font-size="35.6" font-weight="bold" textLength="99.47" lengthAdjust="spacingAndGlyphs" fill="#111" stroke="#111" stroke-width="0.7" stroke-linejoin="round">Avilés</text>
<text id="t5" x="547.60" y="120.0" font-size="25" font-weight="bold" textLength="81.00" lengthAdjust="spacingAndGlyphs" fill="#111" stroke="#111" stroke-width="0.4" stroke-linejoin="round">8°<tspan font-size="30.5" dy="3.2">/</tspan><tspan dy="-3.2"> 12°</tspan></text>
<text id="t6" transform="translate(440.80 0) scale(0.86 1)" x="0" y="152.7" font-size="16.3" font-weight="normal" textLength="81.37" lengthAdjust="spacing" fill="#111" stroke="#111" stroke-width="0.95" stroke-linejoin="round">MAÑANA</text>
<text id="t7" transform="translate(549.20 0) scale(0.86 1)" x="0" y="152.7" font-size="16.3" font-weight="normal" textLength="57.56" lengthAdjust="spacing" fill="#111" stroke="#111" stroke-width="0.95" stroke-linejoin="round">TARDE</text>
<text id="t8" x="676.60" y="120.9" font-size="35.6" font-weight="bold" textLength="87.54" lengthAdjust="spacingAndGlyphs" fill="#111" stroke="#111" stroke-width="0.7" stroke-linejoin="round">Gijón</text>
<text id="t9" x="790.60" y="120.0" font-size="25" font-weight="bold" textLength="80.20" lengthAdjust="spacingAndGlyphs" fill="#111" stroke="#111" stroke-width="0.4" stroke-linejoin="round">7°<tspan font-size="30.5" dy="3.2">/</tspan><tspan dy="-3.2"> 13°</tspan></text>
<text id="t10" transform="translate(690.80 0) scale(0.86 1)" x="0" y="153.4" font-size="16.3" font-weight="normal" textLength="80.09" lengthAdjust="spacing" fill="#111" stroke="#111" stroke-width="0.95" stroke-linejoin="round">MAÑANA</text>
<text id="t11" transform="translate(802.00 0) scale(0.86 1)" x="0" y="153.4" font-size="16.3" font-weight="normal" textLength="55.29" lengthAdjust="spacing" fill="#111" stroke="#111" stroke-width="0.95" stroke-linejoin="round">TARDE</text>
<text id="t12" transform="translate(934.80 0) scale(0.84 1)" x="0" y="87.5" font-size="27.5" font-weight="normal" textLength="87.12" lengthAdjust="spacing" fill="#111" stroke="#111" stroke-width="0.6" stroke-linejoin="round">Llanes</text>
<text id="t13" x="1030.20" y="87.5" font-size="24" font-weight="normal" textLength="80.61" lengthAdjust="spacingAndGlyphs" fill="#111" stroke="#111" stroke-width="0.6" stroke-linejoin="round">8°<tspan font-size="29.3" dy="3.2">/</tspan><tspan dy="-3.2"> 13°</tspan></text>
<text id="t14" transform="translate(940.80 0) scale(0.86 1)" x="0" y="115.0" font-size="16.3" font-weight="normal" textLength="80.30" lengthAdjust="spacing" fill="#111" stroke="#111" stroke-width="0.95" stroke-linejoin="round">MAÑANA</text>
<text id="t15" transform="translate(1050.00 0) scale(0.86 1)" x="0" y="115.0" font-size="16.3" font-weight="normal" textLength="57.50" lengthAdjust="spacing" fill="#111" stroke="#111" stroke-width="0.95" stroke-linejoin="round">TARDE</text>
<text id="t16" x="528.40" y="303.0" font-size="35.6" font-weight="bold" textLength="118.72" lengthAdjust="spacingAndGlyphs" fill="#111" stroke="#111" stroke-width="0.7" stroke-linejoin="round">Oviedo</text>
<text id="t17" x="669.00" y="303.0" font-size="25" font-weight="bold" textLength="82.00" lengthAdjust="spacingAndGlyphs" fill="#111" stroke="#111" stroke-width="0.4" stroke-linejoin="round">7°<tspan font-size="30.5" dy="3.2">/</tspan><tspan dy="-3.2"> 11°</tspan></text>
<text id="t18" transform="translate(545.40 0) scale(0.86 1)" x="0" y="328.4" font-size="16.3" font-weight="normal" textLength="80.93" lengthAdjust="spacing" fill="#111" stroke="#111" stroke-width="0.95" stroke-linejoin="round">MAÑANA</text>
<text id="t19" transform="translate(666.00 0) scale(0.86 1)" x="0" y="328.4" font-size="16.3" font-weight="normal" textLength="56.40" lengthAdjust="spacing" fill="#111" stroke="#111" stroke-width="0.95" stroke-linejoin="round">TARDE</text>
<text id="t20" transform="translate(187.00 0) scale(0.84 1)" x="0" y="345.5" font-size="27.5" font-weight="normal" textLength="250.16" lengthAdjust="spacing" fill="#111" stroke="#111" stroke-width="0.6" stroke-linejoin="round">Cangas del Narcea</text>
<text id="t21" x="422.77" y="345.5" font-size="24" font-weight="normal" textLength="65.03" lengthAdjust="spacingAndGlyphs" fill="#111" stroke="#111" stroke-width="0.6" stroke-linejoin="round">4°<tspan font-size="29.3" dy="3.2">/</tspan><tspan dy="-3.2"> 8°</tspan></text>
<text id="t22" transform="translate(249.80 0) scale(0.86 1)" x="0" y="376.1" font-size="16.3" font-weight="normal" textLength="79.88" lengthAdjust="spacing" fill="#111" stroke="#111" stroke-width="0.95" stroke-linejoin="round">MAÑANA</text>
<text id="t23" transform="translate(384.00 0) scale(0.86 1)" x="0" y="376.1" font-size="16.3" font-weight="normal" textLength="56.74" lengthAdjust="spacing" fill="#111" stroke="#111" stroke-width="0.95" stroke-linejoin="round">TARDE</text>
<text id="t24" transform="translate(864.00 0) scale(0.84 1)" x="0" y="290.0" font-size="27.5" font-weight="normal" textLength="151.04" lengthAdjust="spacing" fill="#111" stroke="#111" stroke-width="0.6" stroke-linejoin="round">Covadonga</text>
<text id="t25" x="1013.00" y="290.0" font-size="24" font-weight="normal" textLength="80.00" lengthAdjust="spacingAndGlyphs" fill="#111" stroke="#111" stroke-width="0.6" stroke-linejoin="round">5°<tspan font-size="29.3" dy="3.2">/</tspan><tspan dy="-3.2"> 10°</tspan></text>
<text id="t26" transform="translate(883.00 0) scale(0.86 1)" x="0" y="318.6" font-size="16.3" font-weight="normal" textLength="81.16" lengthAdjust="spacing" fill="#111" stroke="#111" stroke-width="0.95" stroke-linejoin="round">MAÑANA</text>
<text id="t27" transform="translate(1004.00 0) scale(0.86 1)" x="0" y="318.6" font-size="16.3" font-weight="normal" textLength="56.40" lengthAdjust="spacing" fill="#111" stroke="#111" stroke-width="0.95" stroke-linejoin="round">TARDE</text>
</g>
<g font-family="'Liberation Sans', Arial, sans-serif">
<text id="t28" x="216.20" y="590.7" font-size="20.3" font-weight="bold" textLength="72.05" lengthAdjust="spacingAndGlyphs" fill="#111" stroke="#111" stroke-width="0.3" stroke-linejoin="round">Mañana</text>
<text id="t29" x="322.78" y="590.7" font-size="20.3" font-weight="bold" textLength="52.54" lengthAdjust="spacingAndGlyphs" fill="#111" stroke="#111" stroke-width="0.3" stroke-linejoin="round">Tarde</text>
<text id="t30" x="211.99" y="620.5" font-size="18.6" font-weight="normal" textLength="91.44" lengthAdjust="spacingAndGlyphs" fill="#111">06h.-14h.</text>
<text id="t31" x="311.97" y="620.5" font-size="18.6" font-weight="normal" textLength="92.87" lengthAdjust="spacingAndGlyphs" fill="#111">15h.-00h.</text>
<path d="M43.3,671.5 H404.2" stroke="#222" stroke-width="1.7"/>
<path d="M43.3,707 H404.2" stroke="#222" stroke-width="1.7"/>
<path d="M43.3,744.5 H404.2" stroke="#222" stroke-width="1.7"/>
<path d="M43.3,780.5 H404.2" stroke="#222" stroke-width="1.7"/>
<path d="M43.3,813 H404.2" stroke="#222" stroke-width="1.7"/>
<text id="t32" transform="translate(49.80 0) scale(0.84 1)" x="0" y="662.0" font-size="25" font-weight="normal" textLength="140.43" lengthAdjust="spacing" fill="#111" stroke="#111" stroke-width="0.5" stroke-linejoin="round">Villaviciosa</text>
<text id="t33" x="229.90" y="662.0" font-size="25" font-weight="normal" textLength="27.12" lengthAdjust="spacingAndGlyphs" fill="#111" stroke="#111" stroke-width="0.2" stroke-linejoin="round">8°</text>
<text id="t34" x="314.08" y="662.0" font-size="25" font-weight="normal" textLength="42.25" lengthAdjust="spacingAndGlyphs" fill="#111" stroke="#111" stroke-width="0.2" stroke-linejoin="round">13°</text>
<use href="#sicon" x="272.5" y="648.0"/>
<use href="#sicon" x="369.5" y="648.0"/>
<text id="t35" transform="translate(47.80 0) scale(0.84 1)" x="0" y="697.0" font-size="25" font-weight="normal" textLength="143.93" lengthAdjust="spacing" fill="#111" stroke="#111" stroke-width="0.5" stroke-linejoin="round">Ribadesella</text>
<text id="t36" x="229.90" y="697.0" font-size="25" font-weight="normal" textLength="27.12" lengthAdjust="spacingAndGlyphs" fill="#111" stroke="#111" stroke-width="0.2" stroke-linejoin="round">8°</text>
<text id="t37" x="314.08" y="697.0" font-size="25" font-weight="normal" textLength="42.25" lengthAdjust="spacingAndGlyphs" fill="#111" stroke="#111" stroke-width="0.2" stroke-linejoin="round">13°</text>
<use href="#sicon" x="272.5" y="683.0"/>
<use href="#sicon" x="369.5" y="683.0"/>
<text id="t38" transform="translate(48.80 0) scale(0.84 1)" x="0" y="732.4" font-size="25" font-weight="normal" textLength="189.42" lengthAdjust="spacing" fill="#111" stroke="#111" stroke-width="0.5" stroke-linejoin="round">Cangas de Onís</text>
<text id="t39" x="229.90" y="732.4" font-size="25" font-weight="normal" textLength="27.12" lengthAdjust="spacingAndGlyphs" fill="#111" stroke="#111" stroke-width="0.2" stroke-linejoin="round">6°</text>
<text id="t40" x="314.08" y="732.4" font-size="25" font-weight="normal" textLength="42.25" lengthAdjust="spacingAndGlyphs" fill="#111" stroke="#111" stroke-width="0.2" stroke-linejoin="round">11°</text>
<use href="#sicon" x="272.5" y="718.4"/>
<use href="#sicon" x="369.5" y="718.4"/>
<text id="t41" transform="translate(48.80 0) scale(0.84 1)" x="0" y="767.6" font-size="25" font-weight="normal" textLength="63.36" lengthAdjust="spacing" fill="#111" stroke="#111" stroke-width="0.5" stroke-linejoin="round">Siero</text>
<text id="t42" x="229.90" y="767.6" font-size="25" font-weight="normal" textLength="27.12" lengthAdjust="spacingAndGlyphs" fill="#111" stroke="#111" stroke-width="0.2" stroke-linejoin="round">6°</text>
<text id="t43" x="314.08" y="767.6" font-size="25" font-weight="normal" textLength="42.25" lengthAdjust="spacingAndGlyphs" fill="#111" stroke="#111" stroke-width="0.2" stroke-linejoin="round">11°</text>
<use href="#sicon" x="272.5" y="753.6"/>
<use href="#sicon" x="369.5" y="753.6"/>
<text id="t44" transform="translate(47.80 0) scale(0.84 1)" x="0" y="803.0" font-size="25" font-weight="normal" textLength="96.96" lengthAdjust="spacing" fill="#111" stroke="#111" stroke-width="0.5" stroke-linejoin="round">Infiesto</text>
<text id="t45" x="229.90" y="803.0" font-size="25" font-weight="normal" textLength="27.12" lengthAdjust="spacingAndGlyphs" fill="#111" stroke="#111" stroke-width="0.2" stroke-linejoin="round">5°</text>
<text id="t46" x="314.08" y="803.0" font-size="25" font-weight="normal" textLength="42.25" lengthAdjust="spacingAndGlyphs" fill="#111" stroke="#111" stroke-width="0.2" stroke-linejoin="round">10°</text>
<use href="#sicon" x="272.5" y="789.0"/>
<use href="#sicon" x="369.5" y="789.0"/>
<text id="t47" transform="translate(47.80 0) scale(0.84 1)" x="0" y="838.0" font-size="25" font-weight="normal" textLength="83.76" lengthAdjust="spacing" fill="#111" stroke="#111" stroke-width="0.5" stroke-linejoin="round">Mieres</text>
<text id="t48" x="229.90" y="838.0" font-size="25" font-weight="normal" textLength="27.12" lengthAdjust="spacingAndGlyphs" fill="#111" stroke="#111" stroke-width="0.2" stroke-linejoin="round">6°</text>
<text id="t49" x="314.08" y="838.0" font-size="25" font-weight="normal" textLength="42.25" lengthAdjust="spacingAndGlyphs" fill="#111" stroke="#111" stroke-width="0.2" stroke-linejoin="round">11°</text>
<use href="#sicon" x="272.5" y="824.0"/>
<use href="#sicon" x="369.5" y="824.0"/>
<text id="t50" x="594.41" y="590.7" font-size="20.3" font-weight="bold" textLength="74.05" lengthAdjust="spacingAndGlyphs" fill="#111" stroke="#111" stroke-width="0.3" stroke-linejoin="round">Mañana</text>
<text id="t51" x="701.60" y="590.7" font-size="20.3" font-weight="bold" textLength="51.52" lengthAdjust="spacingAndGlyphs" fill="#111" stroke="#111" stroke-width="0.3" stroke-linejoin="round">Tarde</text>
<text id="t52" x="590.58" y="620.5" font-size="18.6" font-weight="normal" textLength="91.64" lengthAdjust="spacingAndGlyphs" fill="#111">06h.-14h.</text>
<text id="t53" x="691.17" y="620.5" font-size="18.6" font-weight="normal" textLength="92.26" lengthAdjust="spacingAndGlyphs" fill="#111">15h.-00h.</text>
<path d="M441.7,671.5 H783" stroke="#222" stroke-width="1.7"/>
<path d="M441.7,707 H783" stroke="#222" stroke-width="1.7"/>
<path d="M441.7,744.5 H783" stroke="#222" stroke-width="1.7"/>
<path d="M441.7,780.5 H783" stroke="#222" stroke-width="1.7"/>
<path d="M441.7,813 H783" stroke="#222" stroke-width="1.7"/>
<text id="t54" transform="translate(444.20 0) scale(0.84 1)" x="0" y="662.0" font-size="25" font-weight="normal" textLength="68.45" lengthAdjust="spacing" fill="#111" stroke="#111" stroke-width="0.5" stroke-linejoin="round">Sama</text>
<text id="t55" x="613.32" y="662.0" font-size="25" font-weight="normal" textLength="27.12" lengthAdjust="spacingAndGlyphs" fill="#111" stroke="#111" stroke-width="0.2" stroke-linejoin="round">6°</text>
<text id="t56" x="692.27" y="662.0" font-size="25" font-weight="normal" textLength="42.25" lengthAdjust="spacingAndGlyphs" fill="#111" stroke="#111" stroke-width="0.2" stroke-linejoin="round">10°</text>
<use href="#ssun" x="652.5" y="645.0"/>
<use href="#sicon" x="749.2" y="648.0"/>
<text id="t57" transform="translate(443.20 0) scale(0.84 1)" x="0" y="697.0" font-size="25" font-weight="normal" textLength="159.70" lengthAdjust="spacing" fill="#111" stroke="#111" stroke-width="0.5" stroke-linejoin="round">Pola de Lena</text>
<text id="t58" x="613.32" y="697.0" font-size="25" font-weight="normal" textLength="27.12" lengthAdjust="spacingAndGlyphs" fill="#111" stroke="#111" stroke-width="0.2" stroke-linejoin="round">6°</text>
<text id="t59" x="692.27" y="697.0" font-size="25" font-weight="normal" textLength="42.25" lengthAdjust="spacingAndGlyphs" fill="#111" stroke="#111" stroke-width="0.2" stroke-linejoin="round">10°</text>
<use href="#sicon" x="653.5" y="683.0"/>
<use href="#sicon" x="749.2" y="683.0"/>
<text id="t60" transform="translate(444.20 0) scale(0.84 1)" x="0" y="732.4" font-size="25" font-weight="normal" textLength="114.88" lengthAdjust="spacing" fill="#111" stroke="#111" stroke-width="0.5" stroke-linejoin="round">Cudillero</text>
<text id="t61" x="613.29" y="732.4" font-size="25" font-weight="normal" textLength="27.16" lengthAdjust="spacingAndGlyphs" fill="#111" stroke="#111" stroke-width="0.2" stroke-linejoin="round">8°</text>
<text id="t62" x="692.27" y="732.4" font-size="25" font-weight="normal" textLength="42.25" lengthAdjust="spacingAndGlyphs" fill="#111" stroke="#111" stroke-width="0.2" stroke-linejoin="round">12°</text>
<use href="#sicon" x="653.5" y="718.4"/>
<use href="#sicon" x="749.2" y="718.4"/>
<text id="t63" transform="translate(443.20 0) scale(0.84 1)" x="0" y="767.6" font-size="25" font-weight="normal" textLength="70.71" lengthAdjust="spacing" fill="#111" stroke="#111" stroke-width="0.5" stroke-linejoin="round">Navia</text>
<text id="t64" x="613.29" y="767.6" font-size="25" font-weight="normal" textLength="27.16" lengthAdjust="spacingAndGlyphs" fill="#111" stroke="#111" stroke-width="0.2" stroke-linejoin="round">9°</text>
<text id="t65" x="692.27" y="767.6" font-size="25" font-weight="normal" textLength="42.25" lengthAdjust="spacingAndGlyphs" fill="#111" stroke="#111" stroke-width="0.2" stroke-linejoin="round">12°</text>
<use href="#ssun" x="652.5" y="750.6"/>
<use href="#sicon" x="749.2" y="753.6"/>
<text id="t66" transform="translate(444.20 0) scale(0.84 1)" x="0" y="803.0" font-size="25" font-weight="normal" textLength="102.18" lengthAdjust="spacing" fill="#111" stroke="#111" stroke-width="0.5" stroke-linejoin="round">Colunga</text>
<text id="t67" x="613.29" y="803.0" font-size="25" font-weight="normal" textLength="27.16" lengthAdjust="spacingAndGlyphs" fill="#111" stroke="#111" stroke-width="0.2" stroke-linejoin="round">8°</text>
<text id="t68" x="692.27" y="803.0" font-size="25" font-weight="normal" textLength="42.25" lengthAdjust="spacingAndGlyphs" fill="#111" stroke="#111" stroke-width="0.2" stroke-linejoin="round">13°</text>
<use href="#sicon" x="653.5" y="789.0"/>
<use href="#sicon" x="749.2" y="789.0"/>
<text id="t69" transform="translate(444.20 0) scale(0.84 1)" x="0" y="838.0" font-size="25" font-weight="normal" textLength="122.02" lengthAdjust="spacing" fill="#111" stroke="#111" stroke-width="0.5" stroke-linejoin="round">Castropol</text>
<text id="t70" x="613.29" y="838.0" font-size="25" font-weight="normal" textLength="27.16" lengthAdjust="spacingAndGlyphs" fill="#111" stroke="#111" stroke-width="0.2" stroke-linejoin="round">8°</text>
<text id="t71" x="692.27" y="838.0" font-size="25" font-weight="normal" textLength="42.25" lengthAdjust="spacingAndGlyphs" fill="#111" stroke="#111" stroke-width="0.2" stroke-linejoin="round">13°</text>
<use href="#sicon" x="653.5" y="824.0"/>
<use href="#sicon" x="749.2" y="824.0"/>
<text id="t72" x="990.59" y="590.7" font-size="20.3" font-weight="bold" textLength="74.06" lengthAdjust="spacingAndGlyphs" fill="#111" stroke="#111" stroke-width="0.3" stroke-linejoin="round">Mañana</text>
<text id="t73" x="1097.18" y="590.7" font-size="20.3" font-weight="bold" textLength="52.81" lengthAdjust="spacingAndGlyphs" fill="#111" stroke="#111" stroke-width="0.3" stroke-linejoin="round">Tarde</text>
<text id="t74" x="986.17" y="620.5" font-size="18.6" font-weight="normal" textLength="93.08" lengthAdjust="spacingAndGlyphs" fill="#111">06h.-14h.</text>
<text id="t75" x="1086.77" y="620.5" font-size="18.6" font-weight="normal" textLength="93.86" lengthAdjust="spacingAndGlyphs" fill="#111">15h.-00h.</text>
<path d="M807.4,671.5 H1185.3" stroke="#222" stroke-width="1.7"/>
<path d="M807.4,707 H1185.3" stroke="#222" stroke-width="1.7"/>
<path d="M807.4,744.5 H1185.3" stroke="#222" stroke-width="1.7"/>
<path d="M807.4,780.5 H1185.3" stroke="#222" stroke-width="1.7"/>
<path d="M807.4,813 H1185.3" stroke="#222" stroke-width="1.7"/>
<text id="t76" transform="translate(811.20 0) scale(0.84 1)" x="0" y="662.0" font-size="25" font-weight="normal" textLength="208.75" lengthAdjust="spacing" fill="#111" stroke="#111" stroke-width="0.5" stroke-linejoin="round">Pola de Somiedo</text>
<text id="t77" x="1015.57" y="662.0" font-size="25" font-weight="normal" textLength="27.12" lengthAdjust="spacingAndGlyphs" fill="#111" stroke="#111" stroke-width="0.2" stroke-linejoin="round">3°</text>
<text id="t78" x="1114.54" y="662.0" font-size="25" font-weight="normal" textLength="27.16" lengthAdjust="spacingAndGlyphs" fill="#111" stroke="#111" stroke-width="0.2" stroke-linejoin="round">7°</text>
<use href="#sicon" x="1055.2" y="648.0"/>
<use href="#sicon" x="1151.4" y="648.0"/>
<text id="t79" transform="translate(811.20 0) scale(0.84 1)" x="0" y="697.0" font-size="25" font-weight="normal" textLength="77.17" lengthAdjust="spacing" fill="#111" stroke="#111" stroke-width="0.5" stroke-linejoin="round">Grado</text>
<text id="t80" x="1015.57" y="697.0" font-size="25" font-weight="normal" textLength="27.12" lengthAdjust="spacingAndGlyphs" fill="#111" stroke="#111" stroke-width="0.2" stroke-linejoin="round">8°</text>
<text id="t81" x="1100.52" y="697.0" font-size="25" font-weight="normal" textLength="41.17" lengthAdjust="spacingAndGlyphs" fill="#111" stroke="#111" stroke-width="0.2" stroke-linejoin="round">12°</text>
<use href="#sicon" x="1055.2" y="683.0"/>
<use href="#sicon" x="1151.4" y="683.0"/>
<text id="t82" transform="translate(812.20 0) scale(0.84 1)" x="0" y="732.4" font-size="25" font-weight="normal" textLength="134.90" lengthAdjust="spacing" fill="#111" stroke="#111" stroke-width="0.5" stroke-linejoin="round">Taramundi</text>
<text id="t83" x="1015.54" y="732.4" font-size="25" font-weight="normal" textLength="27.16" lengthAdjust="spacingAndGlyphs" fill="#111" stroke="#111" stroke-width="0.2" stroke-linejoin="round">6°</text>
<text id="t84" x="1100.52" y="732.4" font-size="25" font-weight="normal" textLength="41.17" lengthAdjust="spacingAndGlyphs" fill="#111" stroke="#111" stroke-width="0.2" stroke-linejoin="round">10°</text>
<use href="#sicon" x="1055.2" y="718.4"/>
<use href="#sicon" x="1151.4" y="718.4"/>
<text id="t85" transform="translate(812.20 0) scale(0.84 1)" x="0" y="767.6" font-size="25" font-weight="normal" textLength="68.81" lengthAdjust="spacing" fill="#111" stroke="#111" stroke-width="0.5" stroke-linejoin="round">Tineo</text>
<text id="t86" x="1015.57" y="767.6" font-size="25" font-weight="normal" textLength="27.12" lengthAdjust="spacingAndGlyphs" fill="#111" stroke="#111" stroke-width="0.2" stroke-linejoin="round">5°</text>
<text id="t87" x="1114.54" y="767.6" font-size="25" font-weight="normal" textLength="27.16" lengthAdjust="spacingAndGlyphs" fill="#111" stroke="#111" stroke-width="0.2" stroke-linejoin="round">7°</text>
<use href="#sicon" x="1055.2" y="753.6"/>
<use href="#sicon" x="1151.4" y="753.6"/>
<text id="t88" transform="translate(811.20 0) scale(0.84 1)" x="0" y="803.0" font-size="25" font-weight="normal" textLength="195.11" lengthAdjust="spacing" fill="#111" stroke="#111" stroke-width="0.5" stroke-linejoin="round">Pola de Laviana</text>
<text id="t89" x="1015.57" y="803.0" font-size="25" font-weight="normal" textLength="27.12" lengthAdjust="spacingAndGlyphs" fill="#111" stroke="#111" stroke-width="0.2" stroke-linejoin="round">5°</text>
<text id="t90" x="1100.52" y="803.0" font-size="25" font-weight="normal" textLength="41.17" lengthAdjust="spacingAndGlyphs" fill="#111" stroke="#111" stroke-width="0.2" stroke-linejoin="round">10°</text>
<use href="#sicon" x="1055.2" y="789.0"/>
<use href="#sicon" x="1151.4" y="789.0"/>
<text id="t91" transform="translate(811.20 0) scale(0.84 1)" x="0" y="838.0" font-size="25" font-weight="normal" textLength="97.62" lengthAdjust="spacing" fill="#111" stroke="#111" stroke-width="0.5" stroke-linejoin="round">Rioseco</text>
<text id="t92" x="1016.58" y="838.0" font-size="25" font-weight="normal" textLength="26.03" lengthAdjust="spacingAndGlyphs" fill="#111" stroke="#111" stroke-width="0.2" stroke-linejoin="round">4°</text>
<text id="t93" x="1114.57" y="838.0" font-size="25" font-weight="normal" textLength="27.12" lengthAdjust="spacingAndGlyphs" fill="#111" stroke="#111" stroke-width="0.2" stroke-linejoin="round">9°</text>
<use href="#sicon" x="1055.2" y="824.0"/>
<use href="#sicon" x="1151.4" y="824.0"/>
</g>
<path d="M420.8,578 V861" stroke="#111" stroke-width="2.2"/>
<path d="M794,573.5 V855" stroke="#222" stroke-width="1.8"/>
</svg>
</body></html>
